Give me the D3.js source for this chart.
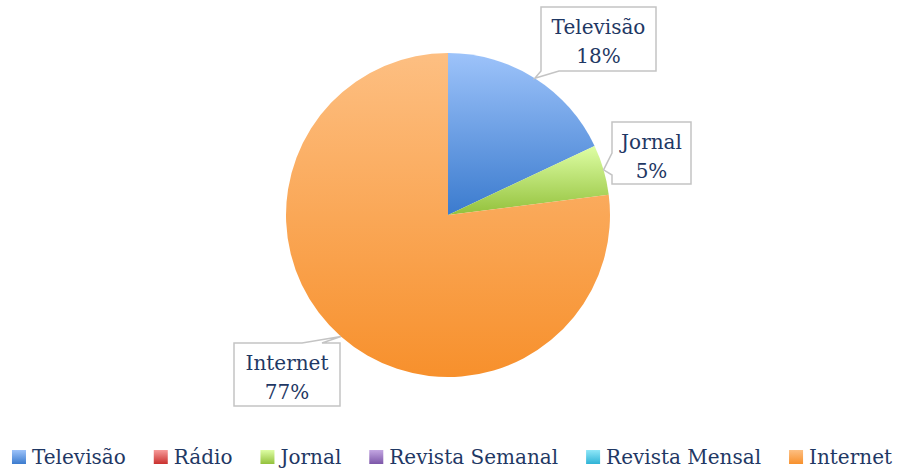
<!DOCTYPE html>
<html>
<head>
<meta charset="utf-8">
<script src="https://cdn.jsdelivr.net/npm/d3@7"></script>
<style>
  body { margin: 0; background: #fff; }
  text { font-family: "DejaVu Serif", serif; }
</style>
</head>
<body>
<svg id="chart" width="898" height="468"></svg>
<script>
// data
const categories = ["Televisão", "Rádio", "Jornal", "Revista Semanal", "Revista Mensal", "Internet"];
const values = [18, 0, 5, 0, 0, 77];
const topColors = ["#9dc3fa", "#f79b9a", "#defea4", "#c3a6e2", "#8fe7f8", "#fdbf82"];
const bottomColors = ["#3b7bce", "#c9302e", "#93c13c", "#7c56a8", "#2fb3d6", "#f7902c"];

const svg = d3.select("#chart");
const cx = 448, cy = 215, radius = 162;
const textColor = "#1f3864";
const fontSize = 20;

const defs = svg.append("defs");
categories.forEach((c, i) => {
  const g = defs.append("linearGradient")
    .attr("id", "grad" + i)
    .attr("x1", 0).attr("y1", 0).attr("x2", 0).attr("y2", 1);
  g.append("stop").attr("offset", "0%").attr("stop-color", topColors[i]);
  g.append("stop").attr("offset", "100%").attr("stop-color", bottomColors[i]);
});

const pie = d3.pie().sort(null).value(d => d.value);
const arcs = pie(categories.map((c, i) => ({ name: c, value: values[i], idx: i })));
const arc = d3.arc().innerRadius(0).outerRadius(radius);

const pieG = svg.append("g").attr("transform", `translate(${cx},${cy})`);
pieG.selectAll("path")
  .data(arcs.filter(d => d.value > 0))
  .enter().append("path")
  .attr("d", arc)
  .attr("fill", d => `url(#grad${d.data.idx})`);

// callout boxes (layout only: box rect, tail side and tail base offsets)
const boxLayout = {
  "Televisão": { x: 541, y: 7, w: 115, h: 64, side: "bottom", b0: 0, b1: 18 },
  "Jornal": { x: 612, y: 122, w: 79, h: 62, side: "left", b0: 31, b1: 53 },
  "Internet": { x: 234, y: 343, w: 106, h: 63, side: "top", b0: 68, b1: 88 }
};

const labelG = svg.append("g");
const total = d3.sum(values);
arcs.filter(d => d.value > 0).forEach(d => {
  const b = boxLayout[d.data.name];
  const mid = (d.startAngle + d.endAngle) / 2;
  const tx = cx + Math.sin(mid) * radius;
  const ty = cy - Math.cos(mid) * radius;
  const x0 = b.x, y0 = b.y, x1 = b.x + b.w, y1 = b.y + b.h;
  let p;
  if (b.side === "bottom") {
    p = `M${x0},${y0}H${x1}V${y1}H${x0 + b.b1}L${tx},${ty}L${x0 + b.b0},${y1}Z`;
  } else if (b.side === "left") {
    p = `M${x0},${y0}H${x1}V${y1}H${x0}V${y0 + b.b1}L${tx},${ty}L${x0},${y0 + b.b0}Z`;
  } else {
    p = `M${x0},${y0}H${x0 + b.b0}L${tx},${ty}L${x0 + b.b1},${y0}H${x1}V${y1}H${x0}Z`;
  }
  labelG.append("path")
    .attr("d", p)
    .attr("fill", "#fff")
    .attr("stroke", "#c4c4c4")
    .attr("stroke-width", 1.5);
  labelG.append("text")
    .attr("x", x0 + b.w / 2).attr("y", y0 + 27)
    .attr("text-anchor", "middle")
    .attr("font-size", fontSize).attr("fill", textColor)
    .text(d.data.name);
  labelG.append("text")
    .attr("x", x0 + b.w / 2).attr("y", y0 + 56)
    .attr("text-anchor", "middle")
    .attr("font-size", fontSize).attr("fill", textColor)
    .text(Math.round(d.data.value / total * 100) + "%");
});

// legend
const legend = svg.append("g");
const items = legend.selectAll("g.item")
  .data(categories)
  .enter().append("g").attr("class", "item");
items.append("rect")
  .attr("width", 14).attr("height", 14)
  .attr("y", 450)
  .attr("fill", (d, i) => `url(#grad${i})`);
items.append("text")
  .attr("x", 20).attr("y", 464)
  .attr("font-size", fontSize).attr("fill", textColor)
  .text(d => d);
let xpos = 0;
const gap = 28;
items.each(function () {
  const w = 20 + d3.select(this).select("text").node().getComputedTextLength();
  d3.select(this).attr("transform", `translate(${xpos},0)`);
  xpos += w + gap;
});
const totalW = xpos - gap;
legend.attr("transform", `translate(${452 - totalW / 2},0)`);
</script>
</body>
</html>
